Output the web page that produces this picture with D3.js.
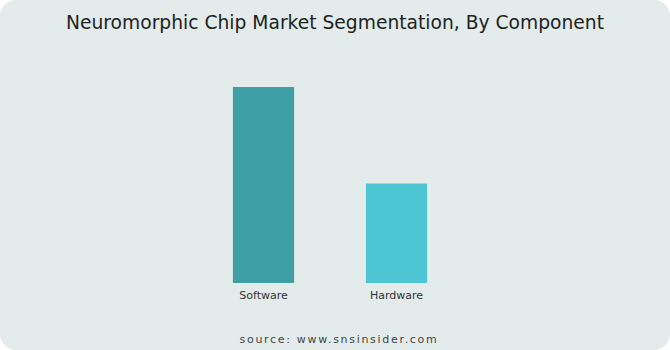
<!DOCTYPE html>
<html><head><meta charset="utf-8">
<script src="https://cdn.jsdelivr.net/npm/d3@7"></script>
<style>html,body{margin:0;padding:0;background:#fff;}svg{display:block;}</style>
</head><body>
<svg id="chart" width="670" height="350"></svg>
<script>
const categories = ["Software", "Hardware"];
const values = [66, 33.5];
const colors = ["#3e9fa6", "#4dc5d2"];
const title = "Neuromorphic Chip Market Segmentation, By Component";
const source = "source: www.snsinsider.com";

const svg = d3.select("#chart");
svg.append("rect").attr("x",0).attr("y",0).attr("width",670).attr("height",350)
  .attr("rx",16).attr("fill","#e3ecea");

const x = d3.scaleBand().domain(categories).range([197, 463]).paddingInner(0.54).paddingOuter(0.27);
const y = d3.scaleLinear().domain([0, 66]).range([283, 87]);

svg.append("text").attr("x",335).attr("y",29).attr("text-anchor","middle")
  .attr("font-family","'DejaVu Sans', sans-serif").attr("font-size",18.7)
  .attr("fill","#222").text(title);

svg.selectAll("rect.bar").data(categories).join("rect").attr("class","bar")
  .attr("x", d => x(d)).attr("width", x.bandwidth())
  .attr("y", (d,i) => y(values[i])).attr("height", (d,i) => y(0) - y(values[i]))
  .attr("fill", (d,i) => colors[i]);

const ax = svg.append("g").attr("transform","translate(0,283)")
  .call(d3.axisBottom(x).tickSize(0).tickPadding(8));
ax.select(".domain").remove();
ax.selectAll("text").attr("font-family","'DejaVu Sans', sans-serif").attr("font-size",11).attr("fill","#333");

svg.append("text").attr("x",339).attr("y",343).attr("text-anchor","middle")
  .attr("font-family","'DejaVu Sans', sans-serif").attr("font-size",11)
  .attr("letter-spacing","1.7px").attr("fill","#444").text(source);
</script>
</body></html>
